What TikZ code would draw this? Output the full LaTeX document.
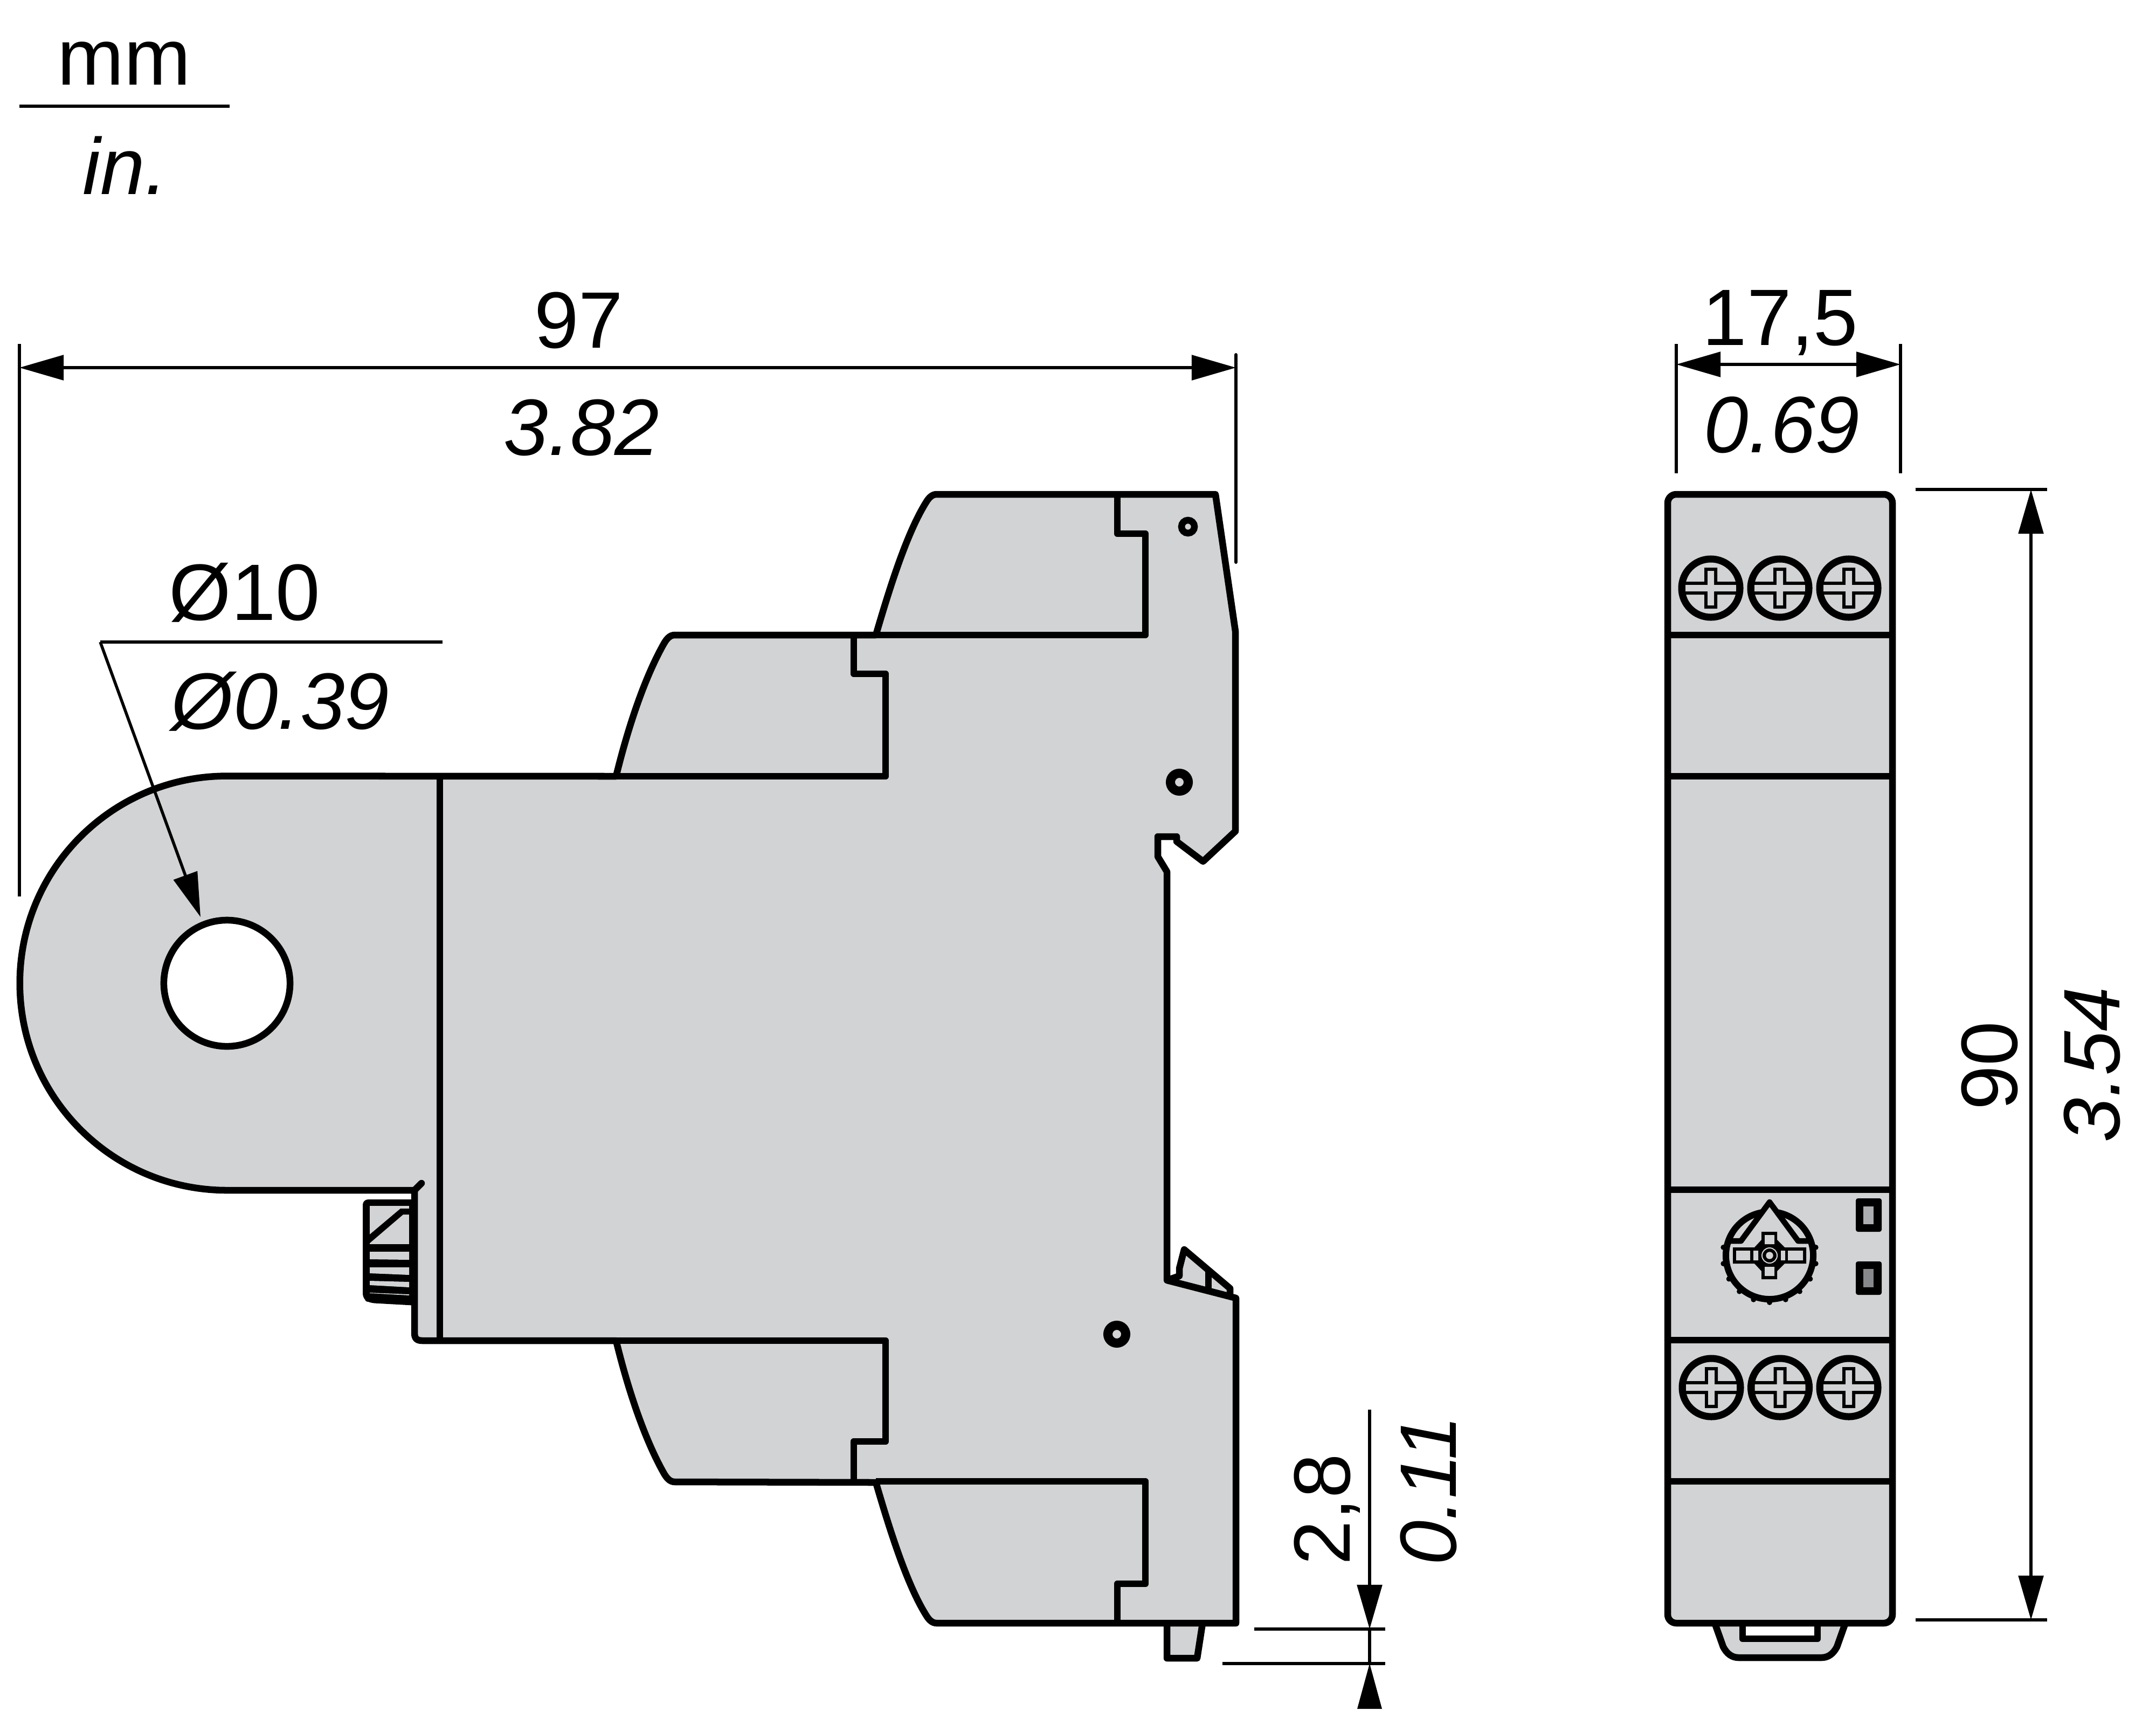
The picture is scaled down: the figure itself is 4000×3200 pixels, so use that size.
\documentclass[tikz,border=0pt]{standalone}
\usepackage{fontspec}
\setmainfont{Liberation Sans}
\usetikzlibrary{arrows.meta}
\definecolor{body}{HTML}{D1D3D4}
\definecolor{ledA}{HTML}{ABADB0}
\definecolor{ledB}{HTML}{87888B}
\tikzset{
  x=0.01cm,y=-0.01cm,
  outline/.style={draw=black,line width=.125cm,line join=round},
  panel/.style={outline,fill=body},
  dimline/.style={draw=black,line width=.055cm},
  extline/.style={draw=black,line width=.06cm},
  dimarrows/.style={dimline,{Triangle[length=.82cm,width=.46cm]}-{Triangle[length=.82cm,width=.46cm]}},
  tipend/.style={dimline,-{Triangle[length=.82cm,width=.46cm]}},
  label/.style={inner sep=0pt,anchor=base,font=\fontsize{42.2pt}{48pt}\selectfont},
  ilabel/.style={label,font=\fontsize{42.2pt}{48pt}\selectfont\itshape},
  screwhead/.pic={
    \fill[body] (0,0) circle[radius=.54cm];
    \fill[black] (-50,-12) rectangle (50,12) (-12,-38) rectangle (12,38);
    \fill[body] (-47,-6) rectangle (47,6) (-6,-32) rectangle (6,32);
    \draw[black,line width=.13cm] (0,0) circle[radius=.54cm];
  }
}
\begin{document}
\begin{tikzpicture}
\useasboundingbox (0,0) rectangle (4000,3200);

% ---- units key
\node[label] (mm) at (230,158) {mm};
\node[ilabel] (inch) at (232,360) {in.};
\coordinate (keyL) at (36,197); \coordinate (keyR) at (426,197);
\draw[dimline] (keyL) -- (keyR);

% ---- foot under the side view
\draw[panel] (2165,3005) -- (2165,3076) -- (2221,3076) -- (2232,3005);

% ---- adjustment knob, side view
\fill[black,rounded corners=.1cm] (673,2225) -- (775,2225) -- (775,2422) -- (685,2417) -- (673,2410) -- cycle;
\fill[body] (686,2237) rectangle (759,2308);
\fill[black] (686,2290) -- (743,2242) -- (759,2242) -- (759,2253) -- (748,2253) -- (686,2306) -- cycle;
\fill[body] (686,2322) -- (759,2322) -- (759,2337) -- (686,2336) -- cycle;
\fill[body] (686,2351) -- (759,2351) -- (759,2365) -- (686,2362) -- cycle;
\fill[body] (686,2376) -- (759,2378) -- (759,2388) -- (686,2384) -- cycle;
\fill[body] (686,2398) -- (759,2401) -- (759,2403) -- (686,2399) -- cycle;

% ---- upper clip of the lower latch
\draw[panel] (2165,2375) -- (2188,2367) -- (2188,2353) -- (2197,2318) -- (2282,2390) -- (2282,2405) -- cycle;
\draw[outline] (2242,2356) -- (2242,2395);

% ---- side view silhouette
\draw[panel]
  (1738,917) -- (2255,917) -- (2292,1171) -- (2292,1542) -- (2232,1598) -- (2183,1561)
  -- (2183,1552) -- (2148,1552) -- (2148,1589) -- (2165,1617) -- (2165,2375)
  -- (2293,2408) -- (2293,3011) -- (1738,3011)
  .. controls (1730,3011) and (1724,3006) .. (1718,2996)
  .. controls (1685,2943) and (1655,2853) .. (1625,2750)
  -- (1252,2749)
  .. controls (1242,2749) and (1236,2741) .. (1230,2730)
  .. controls (1195,2667) and (1165,2577) .. (1143,2487)
  -- (784,2487) .. controls (773,2487) and (769,2483) .. (769,2472)
  -- (769,2208) -- (421,2208)
  arc[start angle=270,end angle=90,radius=3.84cm]
  -- (1143,1440)
  .. controls (1165,1350) and (1195,1260) .. (1230,1197)
  .. controls (1236,1186) and (1242,1178) .. (1252,1178)
  -- (1625,1178)
  .. controls (1655,1075) and (1685,985) .. (1718,932)
  .. controls (1724,922) and (1730,917) .. (1738,917)
  -- cycle;
\draw[outline] (2073,917) -- (2073,990) -- (2125,990) -- (2125,1178) -- (1625,1178);
\draw[outline] (1584,1178) -- (1584,1250) -- (1643,1250) -- (1643,1440) -- (816,1440) -- (816,2487);
\draw[outline] (816,2487) -- (1643,2487) -- (1643,2674) -- (1584,2674) -- (1584,2748);
\draw[outline] (1625,2748) -- (2125,2748) -- (2125,2938) -- (2073,2938) -- (2073,3011);
\draw[outline,line cap=round] (769,2208) -- (782,2195);

% ---- clear hole of the current sensor ring
\draw[outline,fill=white] (421,1824) circle[radius=1.17cm];

% ---- small rings
\draw[black,line width=.125cm,fill=body] (2204,977) circle[radius=.12cm];
\draw[black,line width=.17cm,fill=body] (2188,1451) circle[radius=.165cm];
\draw[black,line width=.17cm,fill=body] (2072,2475) circle[radius=.165cm];

% ---- DIN clip under the front view
\draw[panel] (3181,3010) -- (3197,3055) .. controls (3204,3068) and (3213,3075) .. (3226,3075)
  -- (3379,3075) .. controls (3392,3075) and (3401,3068) .. (3408,3055) -- (3424,3010);
\fill[white] (3233,3010) rectangle (3372,3040);
\draw[outline] (3233,3010) -- (3233,3040) -- (3372,3040) -- (3372,3010);

% ---- front view housing
\draw[panel,rounded corners=.16cm] (3094,917) rectangle (3511,3011);
\draw[outline] (3094,1178) -- (3511,1178);
\draw[outline] (3094,1440) -- (3511,1440);
\draw[outline] (3094,2207) -- (3511,2207);
\draw[outline] (3094,2486) -- (3511,2486);
\draw[outline] (3094,2748) -- (3511,2748);

% ---- terminal screws
\pic at (3174,1091) {screwhead};
\pic at (3302,1091) {screwhead};
\pic at (3430,1091) {screwhead};
\pic at (3175,2574) {screwhead};
\pic at (3302.5,2574) {screwhead};
\pic at (3430,2574) {screwhead};

% ---- LEDs
\fill[black,rounded corners=.04cm] (3443,2223) rectangle (3491,2285);
\fill[ledA] (3457,2238) rectangle (3476,2271);
\fill[black,rounded corners=.04cm] (3443,2340) rectangle (3491,2402);
\fill[ledB] (3457,2354) rectangle (3476,2388);

% ---- dial
\foreach \a in {-100,-80,-60,-40,-20,0,20,40,60,80,100}
  \fill[black] ({3283+87*sin(\a)},{2329+87*cos(\a)}) circle[radius=.05cm];
\draw[black,line width=.12cm] (3283,2329) circle[radius=.81cm];
\fill[body] (3230,2302) -- (3283,2230) -- (3336,2302) -- cycle;
\draw[black,line width=.105cm,line join=round] (3209,2302) -- (3230,2302) -- (3283,2230) -- (3336,2302) -- (3357,2302);
\fill[black] (3215,2314) rectangle (3351,2344) (3268,2285) rectangle (3297,2373);
\fill[black] (3255,2314) -- (3268,2300) -- (3297,2300) -- (3311,2314) -- (3311,2344) -- (3297,2358) -- (3268,2358) -- (3255,2344) -- cycle;
\fill[body] (3221,2320) rectangle (3247,2338) (3253,2320) rectangle (3262,2338)
  (3304,2320) rectangle (3312,2338) (3317,2320) rectangle (3345,2338)
  (3274,2291) rectangle (3292,2308) (3274,2350) rectangle (3292,2367);
\draw[body,line width=.02cm] (3283,2329) circle[radius=.14cm];
\fill[body] (3283,2329) circle[radius=.067cm];

% ---- dimension 97
\coordinate (a97) at (36,682); \coordinate (b97) at (2293,682);
\draw[extline] (36,638) -- (36,1663);
\draw[extline,line cap=round] (2293,658) -- (2293,1043);
\draw[dimarrows] (a97) -- (b97);
\node[label] (t97) at (1074,645) {97};
\node[ilabel] (t382) at (1079,844) {3.82};

% ---- diameter leader
\coordinate (lead0) at (186,1191); \coordinate (lead1) at (821,1191); \coordinate (leadTip) at (372,1701);
\draw[dimline] (lead1) -- (lead0);
\draw[tipend] (lead0) -- (leadTip);
\node[label] (tphi) at (454,1150) {Ø10};
\node[ilabel] (tphii) at (520,1352) {Ø0.39};

% ---- dimension 17,5
\coordinate (a175) at (3110,676); \coordinate (b175) at (3526,676);
\draw[extline] (3110,638) -- (3110,878);
\draw[extline] (3526,638) -- (3526,878);
\draw[dimarrows] (a175) -- (b175);
\node[label] (t175) at (3303,640) {17,5};
\node[ilabel] (t069) at (3306,839) {0.69};

% ---- dimension 90
\coordinate (a90) at (3768,908); \coordinate (b90) at (3768,3005);
\draw[extline] (3554,908) -- (3798,908);
\draw[extline] (3554,3005) -- (3798,3005);
\draw[dimarrows] (a90) -- (b90);
\node[label,rotate=90] (t90) at (3742,1977) {90};
\node[ilabel,rotate=90] (t354) at (3932,1975) {3.54};

% ---- dimension 2,8
\coordinate (a28) at (2541,2615); \coordinate (m28) at (2541,3022);
\coordinate (n28) at (2541,3086); \coordinate (b28) at (2541,3170);
\draw[extline] (2327,3022) -- (2570,3022);
\draw[extline] (2268,3086) -- (2570,3086);
\draw[tipend] (a28) -- (m28);
\draw[dimline] (m28) -- (n28);
\fill[black] (n28) -- (2518,3170) -- (2564,3170) -- cycle;
\node[label,rotate=90] (t28) at (2504,2800) {2,8};
\node[ilabel,rotate=90] (t011) at (2701,2765) {0.11};
\end{tikzpicture}
\end{document}
